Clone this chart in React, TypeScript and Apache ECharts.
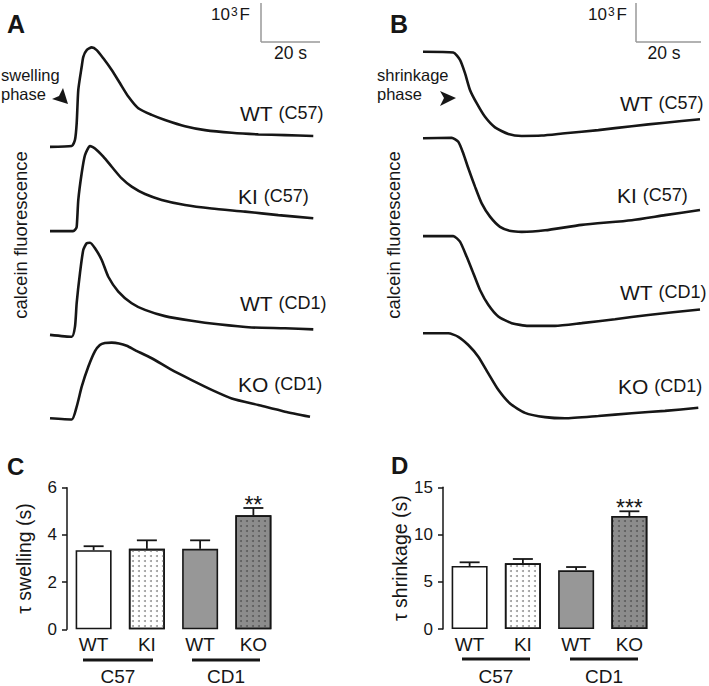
import React, { useEffect, useRef } from 'react';
import * as echarts from 'echarts';

const FONT = '"Liberation Sans", Arial, Helvetica, sans-serif';
const INK = '#161616';

// ---------- Panel A: swelling phase traces [time (s), calcein F (x10^3, stacked offsets)]
const swellWT_C57 = [[0,7.26],[7.36,7.28],[8.47,7.44],[9.05,7.87],[9.59,8.72],[10.75,9.32],[11.29,9.57],[12.44,9.74],[14.14,9.81],[15.83,9.74],[18.07,9.53],[20.92,9.23],[23.73,8.89],[26.54,8.55],[29.93,8.25],[34.47,8.08],[38.98,7.95],[45.76,7.79],[52.54,7.69],[61.59,7.62],[70.61,7.58],[79.66,7.56],[89.25,7.54]];
const swellKI_C57 = [[0,5.1],[7.8,5.1],[8.47,5.13],[9.05,5.21],[9.59,5.9],[10.75,6.59],[11.86,7.05],[13.56,7.28],[15.25,7.22],[18.07,7.01],[20.92,6.75],[24.31,6.45],[27.69,6.24],[32.2,6.05],[37.86,5.9],[45.76,5.77],[54.81,5.68],[66.1,5.6],[77.39,5.51],[89.25,5.43]];
const swellWT_CD1 = [[0,2.44],[7.36,2.39],[8.47,2.65],[9.05,3.26],[10.17,4.03],[11.29,4.62],[12.44,4.79],[13.56,4.8],[15.25,4.66],[17.53,4.36],[19.76,3.93],[23.15,3.55],[27.69,3.25],[32.2,3.08],[38.98,2.92],[48.03,2.8],[57.05,2.71],[68.37,2.63],[79.66,2.61],[89.25,2.58]];
const swellKO_CD1 = [[0,0.3],[7.36,0.27],[9.05,0.6],[10.75,1.11],[12.98,1.62],[15.25,2.02],[16.9,2.18],[18.6,2.23],[20.92,2.24],[23.4,2.22],[26.0,2.16],[28.81,2.05],[34.47,1.84],[41.25,1.54],[48.03,1.28],[54.81,1.03],[61.59,0.81],[70.61,0.64],[79.66,0.47],[88.14,0.34]];

// ---------- Panel B: shrinkage phase traces
const shrinkWT_C57 = [[0,9.7],[9.32,9.68],[11.38,9.49],[12.92,9.15],[14.46,8.72],[16.52,8.38],[19.08,8.03],[22.15,7.76],[26.25,7.59],[30.37,7.54],[36.52,7.55],[43.69,7.61],[53.94,7.69],[64.22,7.79],[74.46,7.88],[85.23,7.97]];
const shrinkKI_C57 = [[0,7.48],[8.83,7.49],[10.86,7.39],[12.4,7.09],[13.94,6.71],[16.0,6.24],[18.06,5.81],[20.62,5.47],[23.69,5.21],[27.08,5.1],[30.37,5.08],[37.54,5.12],[48.83,5.26],[64.22,5.38],[74.46,5.51],[85.23,5.64]];
const shrinkWT_CD1 = [[0,4.97],[9.32,4.97],[11.38,4.83],[13.45,4.44],[15.48,4.02],[17.54,3.59],[20.09,3.21],[23.17,2.91],[27.29,2.74],[32.4,2.67],[40.62,2.67],[48.83,2.74],[59.08,2.84],[69.32,2.95],[85.23,3.09]];
const shrinkKO_CD1 = [[0,2.48],[7.78,2.48],[10.86,2.39],[13.94,2.18],[17.02,1.88],[20.09,1.45],[23.17,1.03],[26.77,0.68],[31.38,0.44],[37.54,0.33],[43.69,0.3],[53.94,0.36],[64.22,0.43],[74.46,0.49],[84.71,0.57]];

const traceGenotypes = ['WT', 'KI', 'WT', 'KO'];
const traceStrains = ['C57', 'C57', 'CD1', 'CD1'];

// ---------- Panels C, D: bar charts
const barCategories = ['WT', 'KI', 'WT', 'KO'];
const strainGroups = ['C57', 'CD1'];
const swellingMean = [3.35, 3.41, 3.41, 4.83];
const swellingSEM = [0.17, 0.36, 0.36, 0.31];
const swellingSig = ['', '', '', '**'];
const shrinkMean = [6.67, 6.95, 6.21, 11.96];
const shrinkSEM = [0.39, 0.46, 0.35, 0.5];
const shrinkSig = ['', '', '', '***'];

export default function App() {
  const ref = useRef<HTMLDivElement>(null);
  useEffect(() => {
    document.body.style.margin = '0';
    const chart = echarts.init(ref.current!, null, { renderer: 'svg' });

    const line = (data: number[][], idx: number) => ({
      type: 'line', xAxisIndex: idx, yAxisIndex: idx, data, showSymbol: false, smooth: 0.2,
      silent: true, lineStyle: { color: INK, width: 2.6 },
    });

    const barStyles: any[] = [
      { color: '#ffffff' },
      { color: '#ffffff', decal: { symbol: 'circle', symbolSize: 1, color: '#9a9a9a', dashArrayX: [2, 4], dashArrayY: [2, 3] } },
      { color: '#979797' },
      { color: '#8c8c8c', decal: { symbol: 'circle', symbolSize: 1, color: '#5c5c5c', dashArrayX: [2, 4], dashArrayY: [2, 3] } },
    ];

    const bars = (means: number[], idx: number) => ({
      type: 'bar', xAxisIndex: idx, yAxisIndex: idx, barWidth: 36, silent: true,
      data: means.map((v, i) => ({ value: v, itemStyle: { ...barStyles[i], borderColor: INK, borderWidth: 1.6 } })),
    });

    const errors = (means: number[], sems: number[], sig: string[], idx: number) => ({
      type: 'custom', xAxisIndex: idx, yAxisIndex: idx, z: 5, silent: true,
      data: means.map((m, i) => [i, m, m + sems[i]]),
      renderItem: (params: any, api: any) => {
        const b = api.coord([api.value(0), api.value(1)]);
        const t = api.coord([api.value(0), api.value(2)]);
        const children: any[] = [
          { type: 'line', shape: { x1: b[0], y1: b[1], x2: t[0], y2: t[1] }, style: { stroke: INK, lineWidth: 1.8 } },
          { type: 'line', shape: { x1: t[0] - 10, y1: t[1], x2: t[0] + 10, y2: t[1] }, style: { stroke: INK, lineWidth: 1.8 } },
        ];
        const s = sig[params.dataIndex];
        if (s) {
          children.push({ type: 'text', style: { text: s, x: t[0], y: t[1] - 3, align: 'center', verticalAlign: 'middle', fontSize: 23, fontFamily: FONT, fill: INK } });
        }
        return { type: 'group', children };
      },
    });

    const traceX = (max: number, idx: number) => ({ type: 'value', gridIndex: idx, min: 0, max, show: false });
    const traceY = (idx: number) => ({
      type: 'value', gridIndex: idx, min: 0, max: 10,
      axisLine: { show: false }, axisTick: { show: false }, axisLabel: { show: false }, splitLine: { show: false },
      name: 'calcein fluorescence', nameLocation: 'middle', nameGap: 20, nameRotate: 90,
      nameTextStyle: { fontSize: 18.5, fontFamily: FONT, color: INK },
    });
    const barX = (idx: number) => ({
      type: 'category', gridIndex: idx, data: barCategories,
      axisLine: { show: false }, axisTick: { show: false },
      axisLabel: { fontSize: 19, fontFamily: FONT, color: INK, margin: 6 },
    });
    const barY = (idx: number, max: number, interval: number, name: string) => ({
      type: 'value', gridIndex: idx, min: 0, max, interval,
      axisLine: { show: true, lineStyle: { color: INK, width: 1.5 } },
      axisTick: { show: true, length: 5, lineStyle: { color: INK, width: 1.5 } },
      axisLabel: { fontSize: 17, fontFamily: FONT, color: INK, margin: 10 },
      splitLine: { show: false },
      name, nameLocation: 'middle', nameGap: 33, nameRotate: 90,
      nameTextStyle: { fontSize: 19.5, fontFamily: FONT, color: INK },
    });

    const txt = (text: string, x: number, y: number, size: number, align = 'left', weight = 'normal') => ({
      type: 'text', silent: true,
      style: { text, x, y, fontSize: size, fontFamily: FONT, fontWeight: weight, fill: INK, align, verticalAlign: 'middle' },
    });
    const scaleLabel = (x: number) => ({
      type: 'text', silent: true,
      style: {
        text: '{n|10}{s|3}{n|F}', x, y: 14, align: 'right', verticalAlign: 'middle', fill: INK,
        rich: {
          n: { fontSize: 17, fontFamily: FONT, fill: INK, verticalAlign: 'bottom' },
          s: { fontSize: 12, fontFamily: FONT, fill: INK, verticalAlign: 'top', padding: [0, 2, 0, 1] },
        },
      },
    });
    const traceLabel = (i: number, x: number, y: number) => ({
      type: 'text', silent: true,
      style: {
        text: `{g|${traceGenotypes[i]} }{s|(${traceStrains[i]})}`, x, y, verticalAlign: 'middle', fill: INK,
        rich: { g: { fontSize: 21, fontFamily: FONT, fill: INK }, s: { fontSize: 18, fontFamily: FONT, fill: INK } },
      },
    });
    const seg = (x1: number, y1: number, x2: number, y2: number, color: string, w: number) => ({
      type: 'line', silent: true, shape: { x1, y1, x2, y2 }, style: { stroke: color, lineWidth: w },
    });

    const graphic: any[] = [
      txt('A', 7, 24, 25, 'left', 'bold'),
      txt('B', 390, 24, 25, 'left', 'bold'),
      txt('C', 7, 466, 24, 'left', 'bold'),
      txt('D', 391, 465, 24, 'left', 'bold'),
      // scale bars
      seg(261, 3, 261, 42, '#999', 1.5), seg(261, 42, 320, 42, '#999', 1.5),
      scaleLabel(250), txt('20 s', 290.5, 53, 17.5, 'center'),
      seg(636, 3, 636, 42, '#999', 1.5), seg(636, 42, 701, 42, '#999', 1.5),
      scaleLabel(627), txt('20 s', 664, 53, 17.5, 'center'),
      // phase annotations
      txt('swelling', 1, 75, 16.5), txt('phase', 1, 94, 16.5),
      { type: 'polygon', silent: true, shape: { points: [[68, 104], [52, 99], [59, 96], [63, 88]] }, style: { fill: INK } },
      txt('shrinkage', 377, 75, 16.5), txt('phase', 377, 94, 16.5),
      { type: 'polygon', silent: true, shape: { points: [[456, 98], [440, 91], [444, 98], [440, 106]] }, style: { fill: INK } },
      // trace labels
      traceLabel(0, 240, 113), traceLabel(1, 238, 196), traceLabel(2, 240, 303), traceLabel(3, 238, 384),
      traceLabel(0, 620, 103), traceLabel(1, 617, 195), traceLabel(2, 620, 292), traceLabel(3, 618, 386),
      // strain groups under bar charts
      seg(83, 660, 153, 660, INK, 3.2), seg(192, 660, 260, 660, INK, 3.2),
      txt(strainGroups[0], 118, 676, 19, 'center'), txt(strainGroups[1], 226, 676, 19, 'center'),
      seg(462, 659, 530, 659, INK, 3.2), seg(570, 659, 638, 659, INK, 3.2),
      txt(strainGroups[0], 496, 676, 19, 'center'), txt(strainGroups[1], 604, 676, 19, 'center'),
    ];

    chart.setOption({
      animation: false,
      backgroundColor: '#ffffff',
      textStyle: { fontFamily: FONT },
      grid: [
        { left: 50, top: 40, width: 265.5, height: 390 },
        { left: 423, top: 40, width: 279.5, height: 390 },
        { left: 67, top: 487.7, width: 213, height: 141.6 },
        { left: 443, top: 487.3, width: 213, height: 141.7 },
      ],
      xAxis: [traceX(90, 0), traceX(86, 1), barX(2), barX(3)],
      yAxis: [traceY(0), traceY(1), barY(2, 6, 2, 'τ swelling (s)'), barY(3, 15, 5, 'τ shrinkage (s)')],
      series: [
        line(swellWT_C57, 0), line(swellKI_C57, 0), line(swellWT_CD1, 0), line(swellKO_CD1, 0),
        line(shrinkWT_C57, 1), line(shrinkKI_C57, 1), line(shrinkWT_CD1, 1), line(shrinkKO_CD1, 1),
        bars(swellingMean, 2), errors(swellingMean, swellingSEM, swellingSig, 2),
        bars(shrinkMean, 3), errors(shrinkMean, shrinkSEM, shrinkSig, 3),
      ],
      graphic,
    });
    return () => chart.dispose();
  }, []);
  return <div ref={ref} style={{ width: 709, height: 686 }} />;
}
